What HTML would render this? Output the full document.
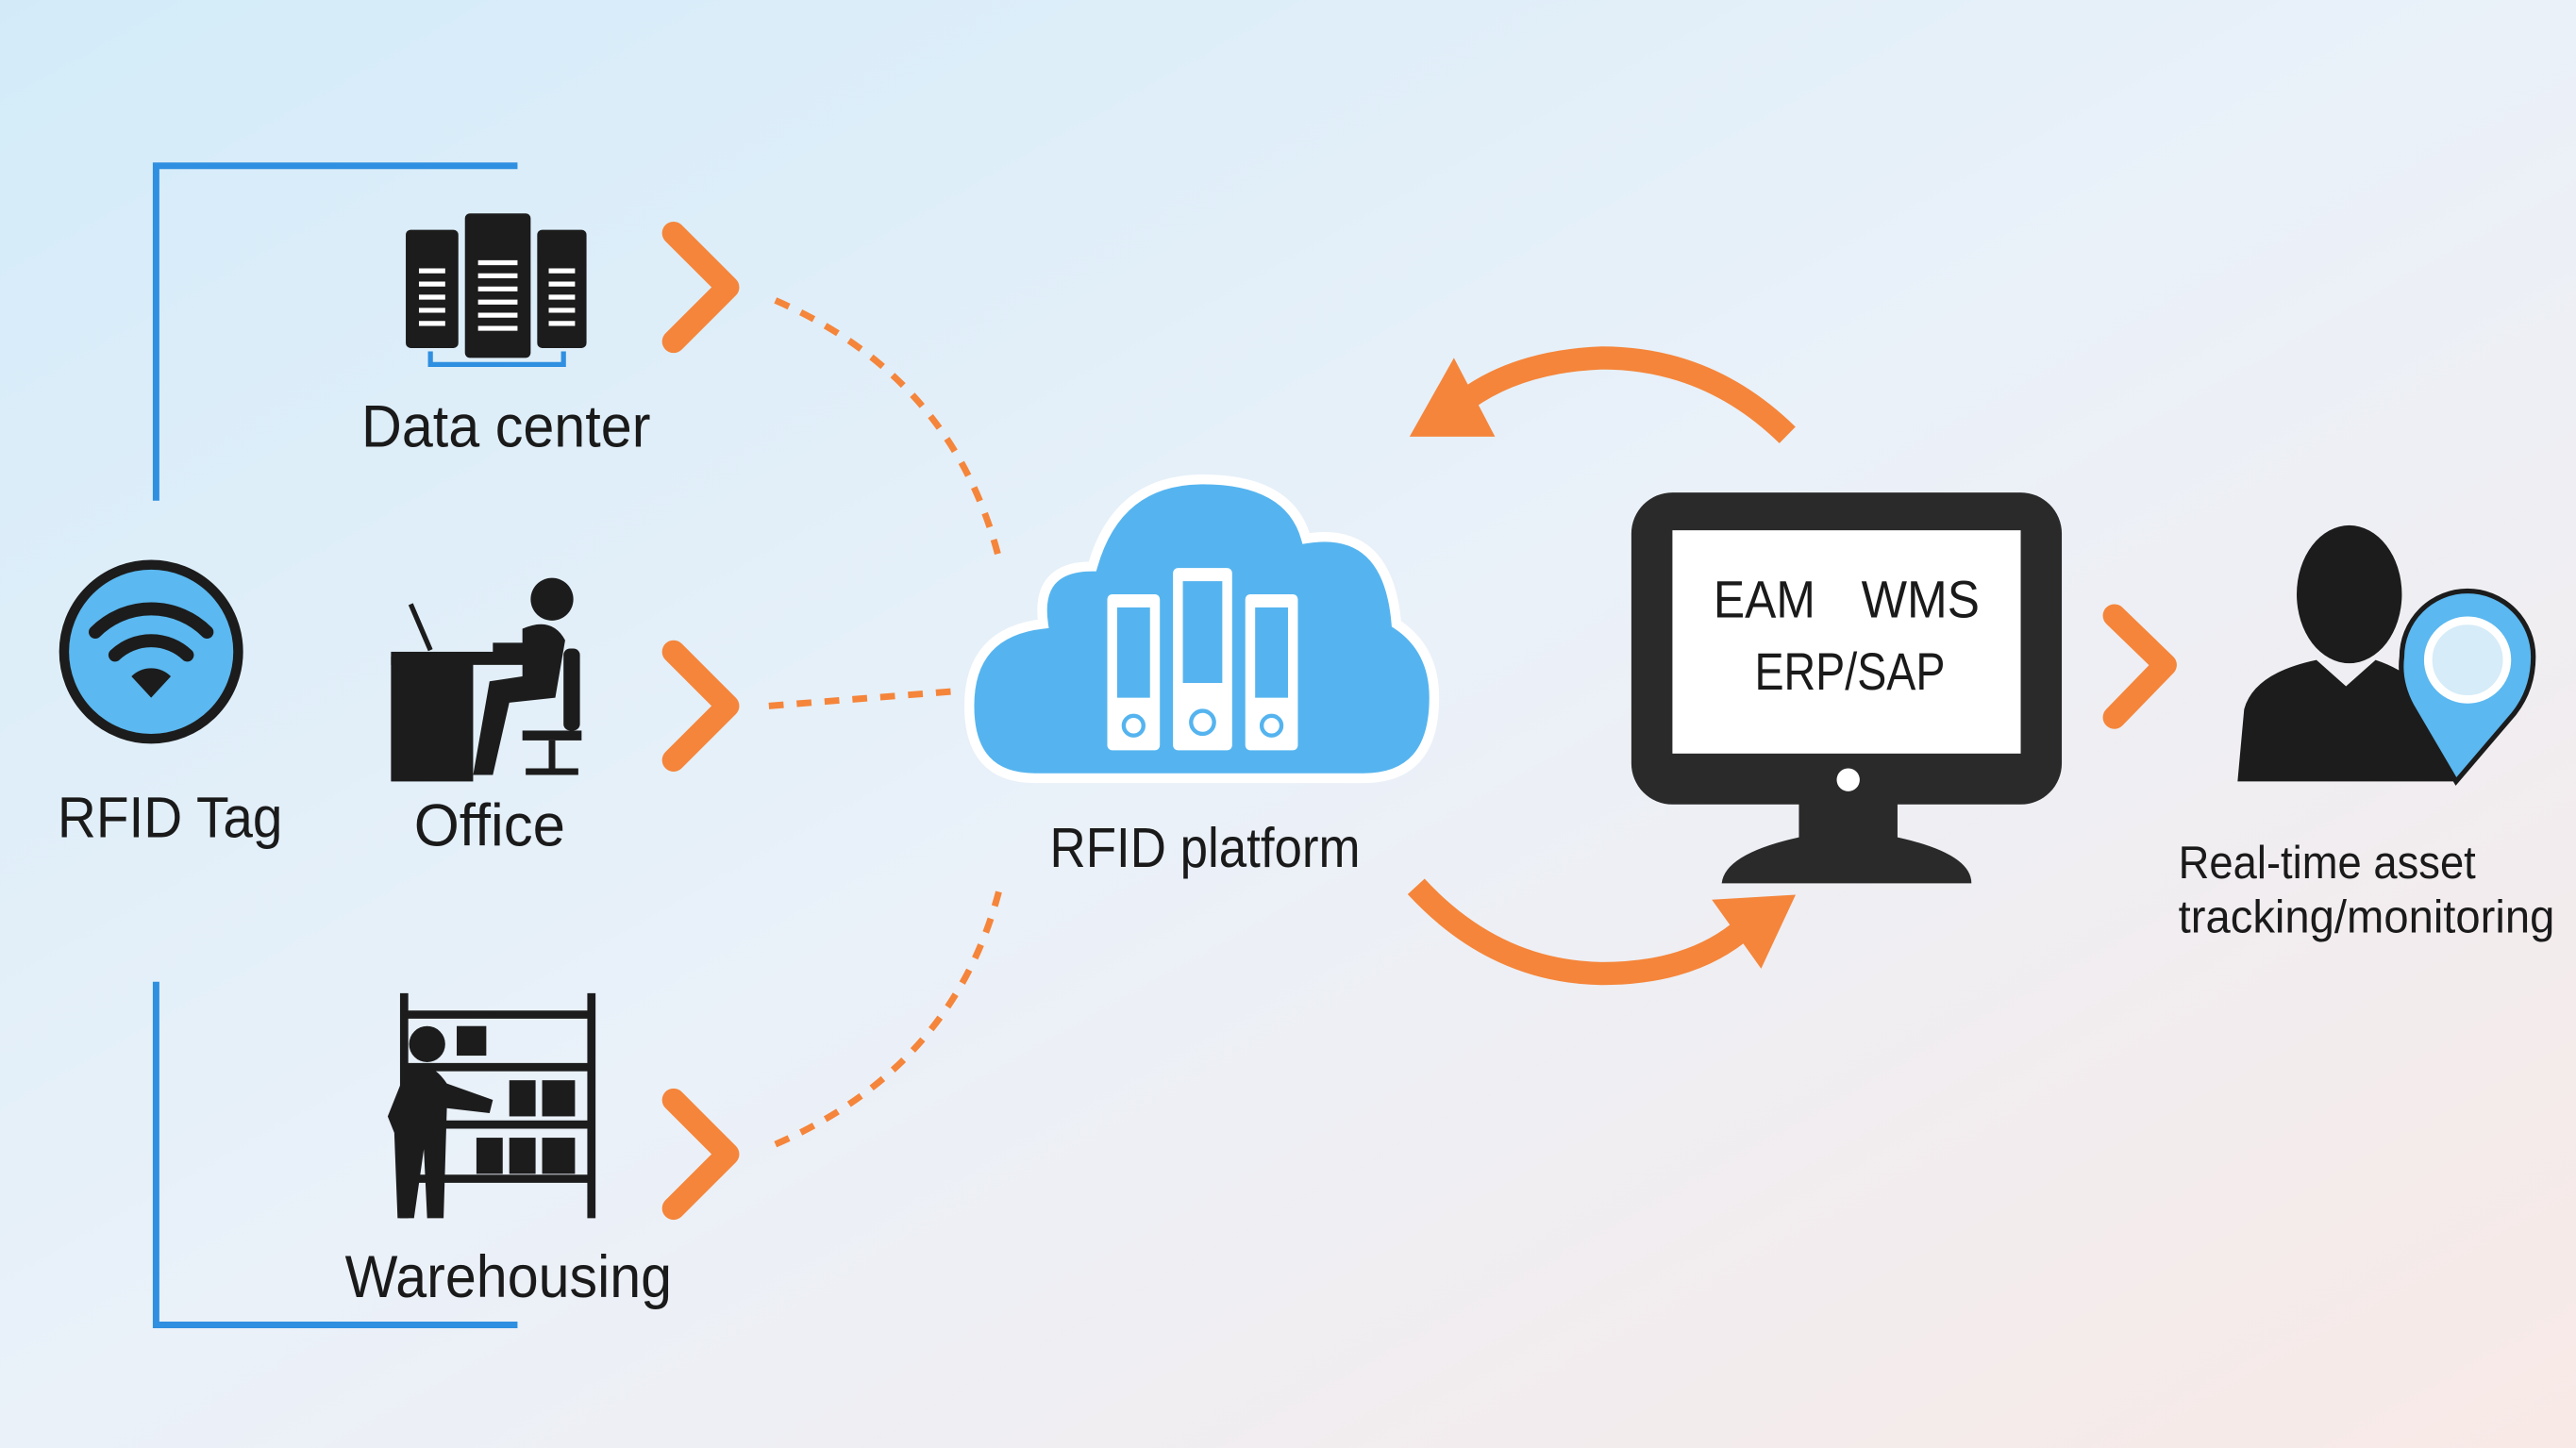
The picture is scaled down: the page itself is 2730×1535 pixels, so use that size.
<!DOCTYPE html>
<html><head><meta charset="utf-8"><style>
html,body{margin:0;padding:0;width:2730px;height:1535px;overflow:hidden}
svg{display:block}
text{font-family:"Liberation Sans",sans-serif;fill:#1a1a1a}
</style></head><body>
<svg width="2730" height="1535" viewBox="0 0 1568 882" preserveAspectRatio="none" xmlns="http://www.w3.org/2000/svg">
<defs>
<linearGradient id="bg" x1="0" y1="0" x2="1" y2="1">
<stop offset="0" stop-color="#d3ebf9"/><stop offset="0.5" stop-color="#eaf1f9"/><stop offset="1" stop-color="#f8e9e6"/>
</linearGradient>
</defs>
<rect width="1568" height="882" fill="url(#bg)"/>
<path d="M315 101 H95 V305" fill="none" stroke="#2f8fe0" stroke-width="4"/>
<path d="M95 598 V807 H315" fill="none" stroke="#2f8fe0" stroke-width="4"/>
<circle cx="92" cy="397" r="53" fill="#5bb8f0" stroke="#1c1c1c" stroke-width="6"/>
<path d="M58 385 A48 48 0 0 1 126 385" fill="none" stroke="#1c1c1c" stroke-width="8" stroke-linecap="round"/>
<path d="M70 399 A32 32 0 0 1 114 399" fill="none" stroke="#1c1c1c" stroke-width="8" stroke-linecap="round"/>
<path d="M92 425 L80 412 A17 17 0 0 1 104 412 Z" fill="#1c1c1c"/>
<text x="35" y="510" font-size="35" textLength="137" lengthAdjust="spacingAndGlyphs">RFID Tag</text>
<g fill="#1c1c1c">
<rect x="247" y="140" width="32" height="72" rx="3"/>
<rect x="283" y="130" width="40" height="88" rx="3"/>
<rect x="327" y="140" width="30" height="72" rx="3"/>
</g>
<g stroke="#fff" stroke-width="3">
<path d="M255 165h16M255 173h16M255 181h16M255 189h16M255 197h16"/>
<path d="M291 160h24M291 168h24M291 176h24M291 184h24M291 192h24M291 200h24"/>
<path d="M334 165h16M334 173h16M334 181h16M334 189h16M334 197h16"/>
</g>
<path d="M262 214 V222 H343 V214" fill="none" stroke="#2f8fe0" stroke-width="3"/>
<text x="220" y="272" font-size="36" textLength="176" lengthAdjust="spacingAndGlyphs">Data center</text>
<g fill="#1c1c1c">
<rect x="238" y="400" width="50" height="76"/>
<rect x="238" y="397" width="82" height="8"/>
<path d="M250 368 L262 396" stroke="#1c1c1c" stroke-width="3"/>
<circle cx="336" cy="365" r="13"/>
<path d="M318 383 Q336 375 344 390 L338 425 L310 428 L300 472 L288 472 L298 415 L318 412 Z"/>
<rect x="343" y="395" width="10" height="50" rx="4"/>
<rect x="318" y="445" width="36" height="6"/>
<path d="M336 451 V468 M320 470 H352" stroke="#1c1c1c" stroke-width="4"/>
<path d="M300 395 L325 395" stroke="#1c1c1c" stroke-width="7"/>
</g>
<text x="252" y="515" font-size="36" textLength="92" lengthAdjust="spacingAndGlyphs">Office</text>
<g fill="none" stroke="#1c1c1c" stroke-width="5">
<path d="M246 605 V742 M360 605 V742 M246 618 H360 M246 650 H360 M246 685 H360 M246 718 H360"/>
</g>
<g fill="#1c1c1c">
<rect x="278" y="625" width="18" height="18"/>
<rect x="310" y="658" width="16" height="22"/><rect x="330" y="658" width="20" height="22"/>
<rect x="290" y="693" width="16" height="22"/><rect x="310" y="693" width="16" height="22"/><rect x="330" y="693" width="20" height="22"/>
<circle cx="260" cy="636" r="11"/>
<path d="M248 650 Q262 645 272 660 L300 670 L298 678 L272 675 L270 742 L260 742 L258 700 L252 742 L242 742 L240 690 L236 680 Z"/>
</g>
<text x="210" y="790" font-size="36" textLength="199" lengthAdjust="spacingAndGlyphs">Warehousing</text>
<g fill="none" stroke="#f5853a" stroke-width="14" stroke-linecap="round" stroke-linejoin="round">
<path d="M410 142 L443 175 L410 208"/>
<path d="M410 397 L443 430 L410 463"/>
<path d="M410 670 L443 703 L410 736"/>
<path d="M1287 375 L1318 405 L1287 437"/>
</g>
<g fill="none" stroke="#f5853a" stroke-width="4" stroke-dasharray="9 8">
<path d="M472 183 Q580 230 608 340"/>
<path d="M468 430 L582 421"/>
<path d="M472 697 Q580 650 608 543"/>
</g>
<path d="M630 474 Q590 474 590 430 Q590 385 635 380 Q630 345 665 345 Q680 292 732 292 Q785 292 795 328 Q845 320 850 380 Q873 395 873 425 Q873 474 830 474 Z" fill="#55b4ef" stroke="#fff" stroke-width="6"/>
<g fill="#fff">
<rect x="674" y="362" width="32" height="95" rx="3"/>
<rect x="714" y="346" width="36" height="111" rx="3"/>
<rect x="758" y="362" width="32" height="95" rx="3"/>
</g>
<g fill="#55b4ef">
<rect x="680" y="370" width="20" height="55"/>
<rect x="720" y="354" width="24" height="62"/>
<rect x="764" y="370" width="20" height="55"/>
</g>
<g fill="none" stroke="#55b4ef" stroke-width="2.5">
<circle cx="690" cy="442" r="6"/><circle cx="732" cy="440" r="7"/><circle cx="774" cy="442" r="6"/>
</g>
<text x="639" y="528" font-size="34" textLength="189" lengthAdjust="spacingAndGlyphs">RFID platform</text>
<path d="M1088 265 Q1040 218 975 218 Q925 220 893 243" fill="none" stroke="#f5853a" stroke-width="14"/>
<path d="M858 266 L885 218 L910 266 Z" fill="#f5853a"/>
<path d="M862 540 Q910 592 975 593 Q1030 593 1062 565" fill="none" stroke="#f5853a" stroke-width="14"/>
<path d="M1042 548 L1093 545 L1072 590 Z" fill="#f5853a"/>
<path d="M1095 488 H1155 V510 Q1200 520 1200 538 H1048 Q1050 520 1095 510 Z" fill="#2a2a2a"/>
<rect x="993" y="300" width="262" height="190" rx="25" fill="#2a2a2a"/>
<rect x="1018" y="323" width="212" height="136" fill="#fff"/>
<circle cx="1125" cy="475" r="7" fill="#fff"/>
<text x="1043" y="376" font-size="32" textLength="62" lengthAdjust="spacingAndGlyphs">EAM</text>
<text x="1133" y="376" font-size="32" textLength="72" lengthAdjust="spacingAndGlyphs">WMS</text>
<text x="1068" y="420" font-size="32" textLength="116" lengthAdjust="spacingAndGlyphs">ERP/SAP</text>
<ellipse cx="1430" cy="362" rx="32" ry="42" fill="#1c1c1c"/>
<path d="M1362 476 L1366 432 Q1372 410 1410 402 L1428 418 L1446 402 Q1470 410 1480 428 L1495 476 Z" fill="#1c1c1c"/>
<path d="M1495 476 L1468 430 Q1460 415 1462 400 A40 40 0 0 1 1542 400 Q1542 420 1530 435 Z" fill="#5bb8f0" stroke="#1c1c1c" stroke-width="3"/>
<circle cx="1502" cy="402" r="24" fill="#d6ecf8" stroke="#fff" stroke-width="5"/>
<text x="1326" y="535" font-size="28" fill="#333" textLength="181" lengthAdjust="spacingAndGlyphs">Real-time asset</text>
<text x="1326" y="568" font-size="28" fill="#333" textLength="229" lengthAdjust="spacingAndGlyphs">tracking/monitoring</text>
</svg>
</body></html>
